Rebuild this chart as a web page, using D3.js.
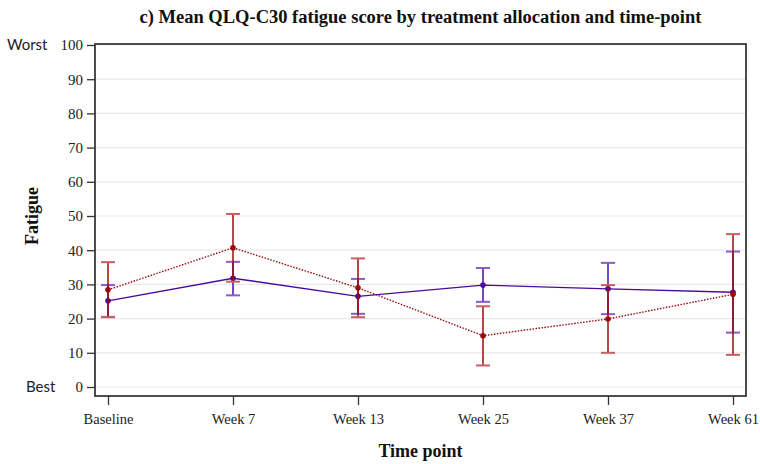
<!DOCTYPE html>
<html>
<head>
<meta charset="utf-8">
<script src="https://cdn.jsdelivr.net/npm/d3@7/dist/d3.min.js"></script>
<style>
  html, body { margin: 0; padding: 0; background: #fff; }
  svg { display: block; }
</style>
</head>
<body>
<svg id="chart" width="760" height="464"></svg>
<script>
// Time points on the x axis
const timePoints = ["Baseline", "Week 7", "Week 13", "Week 25", "Week 37", "Week 61"];

// Arm A (purple, solid line): mean and 95% CI
const armAMean  = [25.2, 31.8, 26.5, 29.8, 28.7, 27.7];
const armALower = [20.5, 26.8, 21.4, 24.9, 21.3, 15.9];
const armAUpper = [29.8, 36.6, 31.6, 34.8, 36.3, 39.6];

// Arm B (red, dotted line): mean and 95% CI
const armBMean  = [28.4, 40.7, 29.0, 15.0, 19.9, 27.1];
const armBLower = [20.4, 30.8, 20.4, 6.3, 10.0, 9.4];
const armBUpper = [36.5, 50.6, 37.6, 23.6, 29.8, 44.7];

const yTicks = [0, 10, 20, 30, 40, 50, 60, 70, 80, 90, 100];

const svg = d3.select("#chart");

const frame = { left: 95, right: 746, top: 44, bottom: 396 };

const x = d3.scalePoint()
  .domain(timePoints)
  .range([108, 733]);

const y = d3.scaleLinear()
  .domain([0, 100])
  .range([387, 45]);

const serif = "'Liberation Serif', 'Times New Roman', serif";

// Horizontal gridlines
svg.append("g")
  .selectAll("line")
  .data(yTicks)
  .join("line")
  .attr("x1", frame.left)
  .attr("x2", frame.right)
  .attr("y1", d => y(d))
  .attr("y2", d => y(d))
  .attr("stroke", "#e9e9e9")
  .attr("stroke-width", 1.2);

// Y axis
const yAxis = svg.append("g")
  .attr("transform", `translate(${frame.left},0)`)
  .call(d3.axisLeft(y).tickValues(yTicks).tickSize(8).tickPadding(4).tickFormat(d3.format("d")));
yAxis.select(".domain").remove();
yAxis.selectAll(".tick line").attr("stroke", "#333").attr("stroke-width", 1.3);
yAxis.selectAll(".tick text")
  .attr("font-family", serif)
  .attr("font-size", 15)
  .attr("fill", "#222");

// X axis
const xAxis = svg.append("g")
  .attr("transform", `translate(0,${frame.bottom})`)
  .call(d3.axisBottom(x).tickSize(9).tickPadding(9));
xAxis.select(".domain").remove();
xAxis.selectAll(".tick line").attr("stroke", "#333").attr("stroke-width", 1.3);
xAxis.selectAll(".tick text")
  .attr("font-family", serif)
  .attr("font-size", 14.5)
  .attr("fill", "#222");

// Plot frame
svg.append("rect")
  .attr("x", frame.left)
  .attr("y", frame.top)
  .attr("width", frame.right - frame.left)
  .attr("height", frame.bottom - frame.top)
  .attr("fill", "none")
  .attr("stroke", "#3a3a3a")
  .attr("stroke-width", 1.8);

// Series drawing helper
function drawSeries(mean, lower, upper, color, capColor, dash) {
  const g = svg.append("g");
  const rows = timePoints.map((t, i) => ({ t, m: mean[i], lo: lower[i], hi: upper[i] }));

  g.append("path")
    .datum(rows)
    .attr("fill", "none")
    .attr("stroke", color)
    .attr("stroke-width", 1.4)
    .attr("stroke-dasharray", dash || null)
    .attr("d", d3.line().x(d => x(d.t)).y(d => y(d.m)));

  g.selectAll(".err")
    .data(rows)
    .join("line")
    .attr("x1", d => x(d.t))
    .attr("x2", d => x(d.t))
    .attr("y1", d => y(d.lo))
    .attr("y2", d => y(d.hi))
    .attr("stroke", color)
    .attr("stroke-width", 1.5);

  ["lo", "hi"].forEach(k => {
    g.selectAll(".cap-" + k)
      .data(rows)
      .join("line")
      .attr("x1", d => x(d.t) - 7)
      .attr("x2", d => x(d.t) + 7)
      .attr("y1", d => y(d[k]))
      .attr("y2", d => y(d[k]))
      .attr("stroke", capColor)
      .attr("stroke-width", 2);
  });

  g.selectAll("circle")
    .data(rows)
    .join("circle")
    .attr("cx", d => x(d.t))
    .attr("cy", d => y(d.m))
    .attr("r", 2.8)
    .attr("fill", color);
}

drawSeries(armAMean, armALower, armAUpper, "#4a0a9c", "#8a5cc8", null);
drawSeries(armBMean, armBLower, armBUpper, "#9c0a0a", "#c46060", "1.5,1.5");

// Title
svg.append("text")
  .attr("x", (frame.left + frame.right) / 2)
  .attr("y", 23)
  .attr("text-anchor", "middle")
  .attr("font-family", serif)
  .attr("font-weight", "bold")
  .attr("font-size", 18.5)
  .attr("fill", "#111")
  .text("c) Mean QLQ-C30 fatigue score by treatment allocation and time-point");

// Axis titles
svg.append("text")
  .attr("x", (frame.left + frame.right) / 2)
  .attr("y", 457)
  .attr("text-anchor", "middle")
  .attr("font-family", serif)
  .attr("font-weight", "bold")
  .attr("font-size", 18)
  .attr("fill", "#111")
  .text("Time point");

svg.append("text")
  .attr("transform", `translate(38,${y(50)}) rotate(-90)`)
  .attr("text-anchor", "middle")
  .attr("font-family", serif)
  .attr("font-weight", "bold")
  .attr("font-size", 18)
  .attr("fill", "#111")
  .text("Fatigue");

// Scale anchors
svg.append("text")
  .attr("x", 7)
  .attr("y", y(100) + 5)
  .attr("font-family", "Lato, 'Open Sans', sans-serif")
  .attr("font-size", 15)
  .attr("fill", "#222")
  .text("Worst");

svg.append("text")
  .attr("x", 26)
  .attr("y", y(0) + 5)
  .attr("font-family", "Lato, 'Open Sans', sans-serif")
  .attr("font-size", 15)
  .attr("fill", "#222")
  .text("Best");
</script>
</body>
</html>
